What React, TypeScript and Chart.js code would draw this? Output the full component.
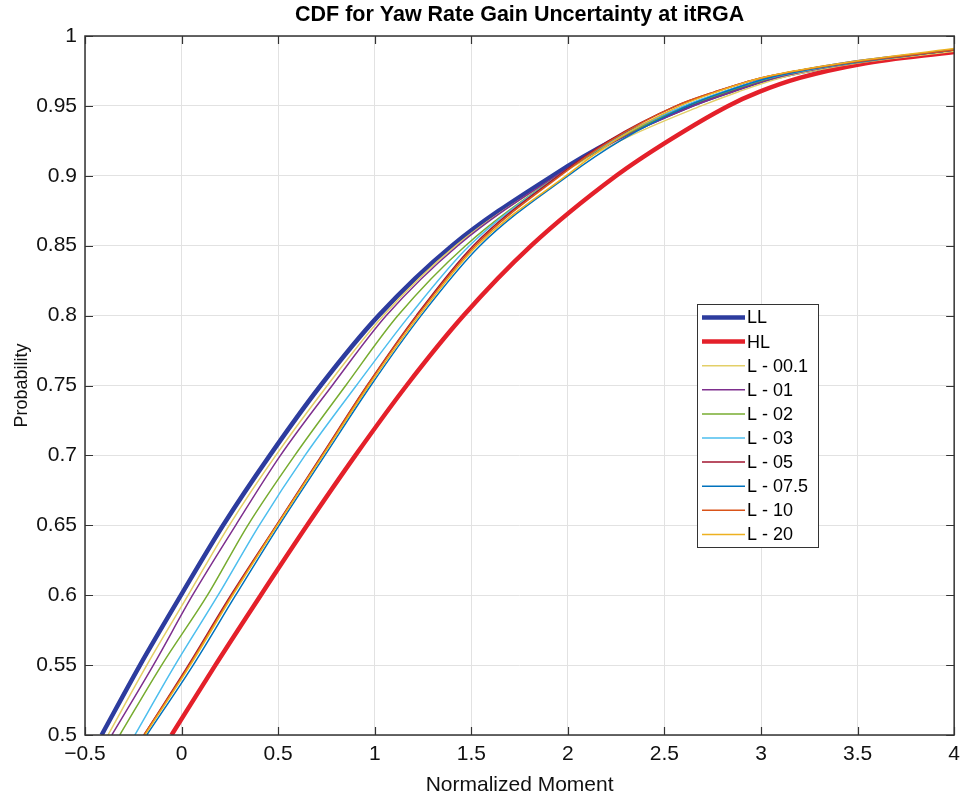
import React, { useEffect, useRef } from 'react';
import { Chart, registerables } from 'chart.js';

Chart.register(...registerables);

// Probability levels at which each curve's x-position was read
const PROB = [0.5, 0.55, 0.6, 0.65, 0.7, 0.75, 0.8, 0.85, 0.9, 0.925, 0.95, 0.96, 0.97, 0.98];
// x at which every curve ends, and each curve's probability there
const END_X = 4;

const LL_X = [-0.414, -0.215, -0.003, 0.215, 0.457, 0.72, 1.02, 1.4, 1.92, 2.23, 2.63, 2.83, 3.06, 3.44];
const LL_END = 0.989;
const HL_X = [-0.052, 0.175, 0.41, 0.65, 0.9, 1.165, 1.46, 1.81, 2.25, 2.52, 2.83, 2.99, 3.2, 3.52];
const HL_END = 0.9886;
const L001_X = [-0.381, -0.18, 0.034, 0.247, 0.488, 0.755, 1.045, 1.42, 1.95, 2.27, 2.69, 2.88, 3.1, 3.47];
const L001_END = 0.989;
const L01_X = [-0.361, -0.146, 0.057, 0.28, 0.512, 0.78, 1.06, 1.43, 1.94, 2.25, 2.65, 2.85, 3.07, 3.45];
const L01_END = 0.99;
const L02_X = [-0.32, -0.103, 0.134, 0.343, 0.586, 0.85, 1.12, 1.47, 1.95, 2.24, 2.62, 2.82, 3.05, 3.44];
const L02_END = 0.99;
const L03_X = [-0.242, -0.034, 0.189, 0.402, 0.639, 0.905, 1.18, 1.49, 1.95, 2.23, 2.6, 2.8, 3.04, 3.43];
const L03_END = 0.99;
const L05_X = [-0.195, 0.035, 0.255, 0.49, 0.725, 0.96, 1.215, 1.51, 1.95, 2.21, 2.56, 2.76, 3.0, 3.41];
const L05_END = 0.99;
const L075_X = [-0.18, 0.06, 0.28, 0.505, 0.742, 0.98, 1.24, 1.545, 2.0, 2.27, 2.62, 2.81, 3.04, 3.43];
const L075_END = 0.99;
const L10_X = [-0.195, 0.04, 0.26, 0.492, 0.728, 0.962, 1.22, 1.52, 1.96, 2.22, 2.56, 2.76, 3.0, 3.41];
const L10_END = 0.99;
const L20_X = [-0.19, 0.045, 0.265, 0.495, 0.732, 0.97, 1.23, 1.53, 1.99, 2.24, 2.58, 2.77, 3.0, 3.39];
const L20_END = 0.991;

const SERIES_LABELS = ['LL', 'HL', 'L - 00.1', 'L - 01', 'L - 02', 'L - 03', 'L - 05', 'L - 07.5', 'L - 10', 'L - 20'];
const SERIES_X = [LL_X, HL_X, L001_X, L01_X, L02_X, L03_X, L05_X, L075_X, L10_X, L20_X];
const SERIES_END = [LL_END, HL_END, L001_END, L01_END, L02_END, L03_END, L05_END, L075_END, L10_END, L20_END];
const SERIES_COLORS = ['#2D3C9E', '#E4202A', '#E3CF68', '#7E2F8E', '#77AC30', '#4DBEEE', '#A2142F', '#0072BD', '#D95319', '#EDB120'];
const SERIES_WIDTHS = [4.5, 4.5, 1.5, 1.5, 1.5, 1.5, 1.5, 1.5, 1.5, 1.5];

const X_MIN = -0.5, X_MAX = 4, X_STEP = 0.5;
const Y_MIN = 0.5, Y_MAX = 1, Y_STEP = 0.05;

const TITLE = 'CDF for Yaw Rate Gain Uncertainty at itRGA';
const X_TITLE = 'Normalized Moment';
const Y_TITLE = 'Probability';

const FONT = '"Liberation Sans", Arial, Helvetica, sans-serif';

const framePlugin = {
  id: 'frameTicks',
  afterDatasetsDraw(chart: any) {
    const { ctx, chartArea: a, scales } = chart;
    const xs = scales.x, ys = scales.y;
    const L = 8;
    ctx.save();
    ctx.strokeStyle = '#333333';
    ctx.lineWidth = 1.2;
    ctx.beginPath();
    xs.ticks.forEach((t: any) => {
      const px = Math.round(xs.getPixelForValue(t.value)) + 0.5;
      ctx.moveTo(px, a.bottom);
      ctx.lineTo(px, a.bottom - L);
      ctx.moveTo(px, a.top);
      ctx.lineTo(px, a.top + L);
    });
    ys.ticks.forEach((t: any) => {
      const py = Math.round(ys.getPixelForValue(t.value)) + 0.5;
      ctx.moveTo(a.left, py);
      ctx.lineTo(a.left + L, py);
      ctx.moveTo(a.right, py);
      ctx.lineTo(a.right - L, py);
    });
    ctx.stroke();
    ctx.lineWidth = 1.5;
    ctx.strokeRect(a.left, a.top, a.right - a.left, a.bottom - a.top);
    ctx.restore();
  },
};

const legendPlugin = {
  id: 'boxLegend',
  afterDraw(chart: any) {
    const { ctx, chartArea: a } = chart;
    const left = a.left + 612;
    const top = a.top + 268;
    const w = 121;
    const h = 243;
    ctx.save();
    ctx.fillStyle = '#ffffff';
    ctx.fillRect(left, top, w, h);
    ctx.strokeStyle = '#333333';
    ctx.lineWidth = 1;
    ctx.strokeRect(left + 0.5, top + 0.5, w, h);
    ctx.font = '18px ' + FONT;
    ctx.textBaseline = 'middle';
    ctx.textAlign = 'left';
    chart.data.datasets.forEach((ds: any, i: number) => {
      const cy = top + 13.5 + i * 24.1;
      ctx.strokeStyle = ds.borderColor;
      ctx.lineWidth = ds.borderWidth;
      ctx.beginPath();
      ctx.moveTo(left + 5, cy);
      ctx.lineTo(left + 48, cy);
      ctx.stroke();
      ctx.fillStyle = '#000000';
      ctx.fillText(ds.label, left + 50, cy + 1);
    });
    ctx.restore();
  },
};

function fmt(v: number): string {
  const r = Math.round(v * 100) / 100;
  if (r < 0) return '\u2212' + String(-r);
  return String(r);
}

export default function App() {
  const ref = useRef<HTMLCanvasElement | null>(null);

  useEffect(() => {
    if (!ref.current) return;
    const datasets = SERIES_LABELS.map((label, i) => ({
      label,
      data: PROB.map((p, k) => ({ x: SERIES_X[i][k], y: p })).concat([{ x: END_X, y: SERIES_END[i] }]),
      borderColor: SERIES_COLORS[i],
      backgroundColor: SERIES_COLORS[i],
      borderWidth: SERIES_WIDTHS[i],
      pointRadius: 0,
      fill: false,
      cubicInterpolationMode: 'monotone' as const,
      order: SERIES_LABELS.length - i,
    }));

    const chart = new Chart(ref.current, {
      type: 'line',
      data: { datasets },
      options: {
        animation: false,
        responsive: false,
        devicePixelRatio: 1,
        layout: { padding: { left: 0, right: 9, top: 0, bottom: 0 } },
        plugins: {
          legend: { display: false },
          tooltip: { enabled: false },
          title: {
            display: true,
            text: TITLE,
            fullSize: false,
            color: '#000000',
            font: { family: FONT, size: 21.5, weight: 'bold' },
            padding: { top: 2, bottom: 8.2 },
          },
        },
        scales: {
          x: {
            type: 'linear',
            min: X_MIN,
            max: X_MAX,
            afterFit: (s: any) => { s.height = 65; },
            grid: { color: '#e2e2e2', lineWidth: 1, drawTicks: false },
            border: { display: false },
            ticks: {
              stepSize: X_STEP,
              padding: 7,
              color: '#111111',
              font: { family: FONT, size: 21 },
              callback: (v: any) => fmt(Number(v)),
              maxRotation: 0,
            },
            title: {
              display: true,
              text: X_TITLE,
              color: '#111111',
              font: { family: FONT, size: 21 },
              padding: { top: 0, bottom: 2 },
            },
          },
          y: {
            type: 'linear',
            min: Y_MIN,
            max: Y_MAX,
            afterFit: (s: any) => { s.width = 85; },
            grid: { color: '#e2e2e2', lineWidth: 1, drawTicks: false },
            border: { display: false },
            ticks: {
              stepSize: Y_STEP,
              padding: 8,
              color: '#111111',
              font: { family: FONT, size: 21 },
              callback: (v: any) => fmt(Number(v)),
            },
            title: {
              display: true,
              text: Y_TITLE,
              color: '#111111',
              font: { family: FONT, size: 18 },
              padding: { top: 11, bottom: 0 },
            },
          },
        },
      },
      plugins: [framePlugin, legendPlugin],
    } as any);

    return () => chart.destroy();
  }, []);

  return (
    <div style={{ position: 'absolute', left: 0, top: 0, width: 967, height: 800, background: '#ffffff' }}>
      <canvas ref={ref} width={967} height={800} style={{ display: 'block', width: 967, height: 800 }} />
    </div>
  );
}
